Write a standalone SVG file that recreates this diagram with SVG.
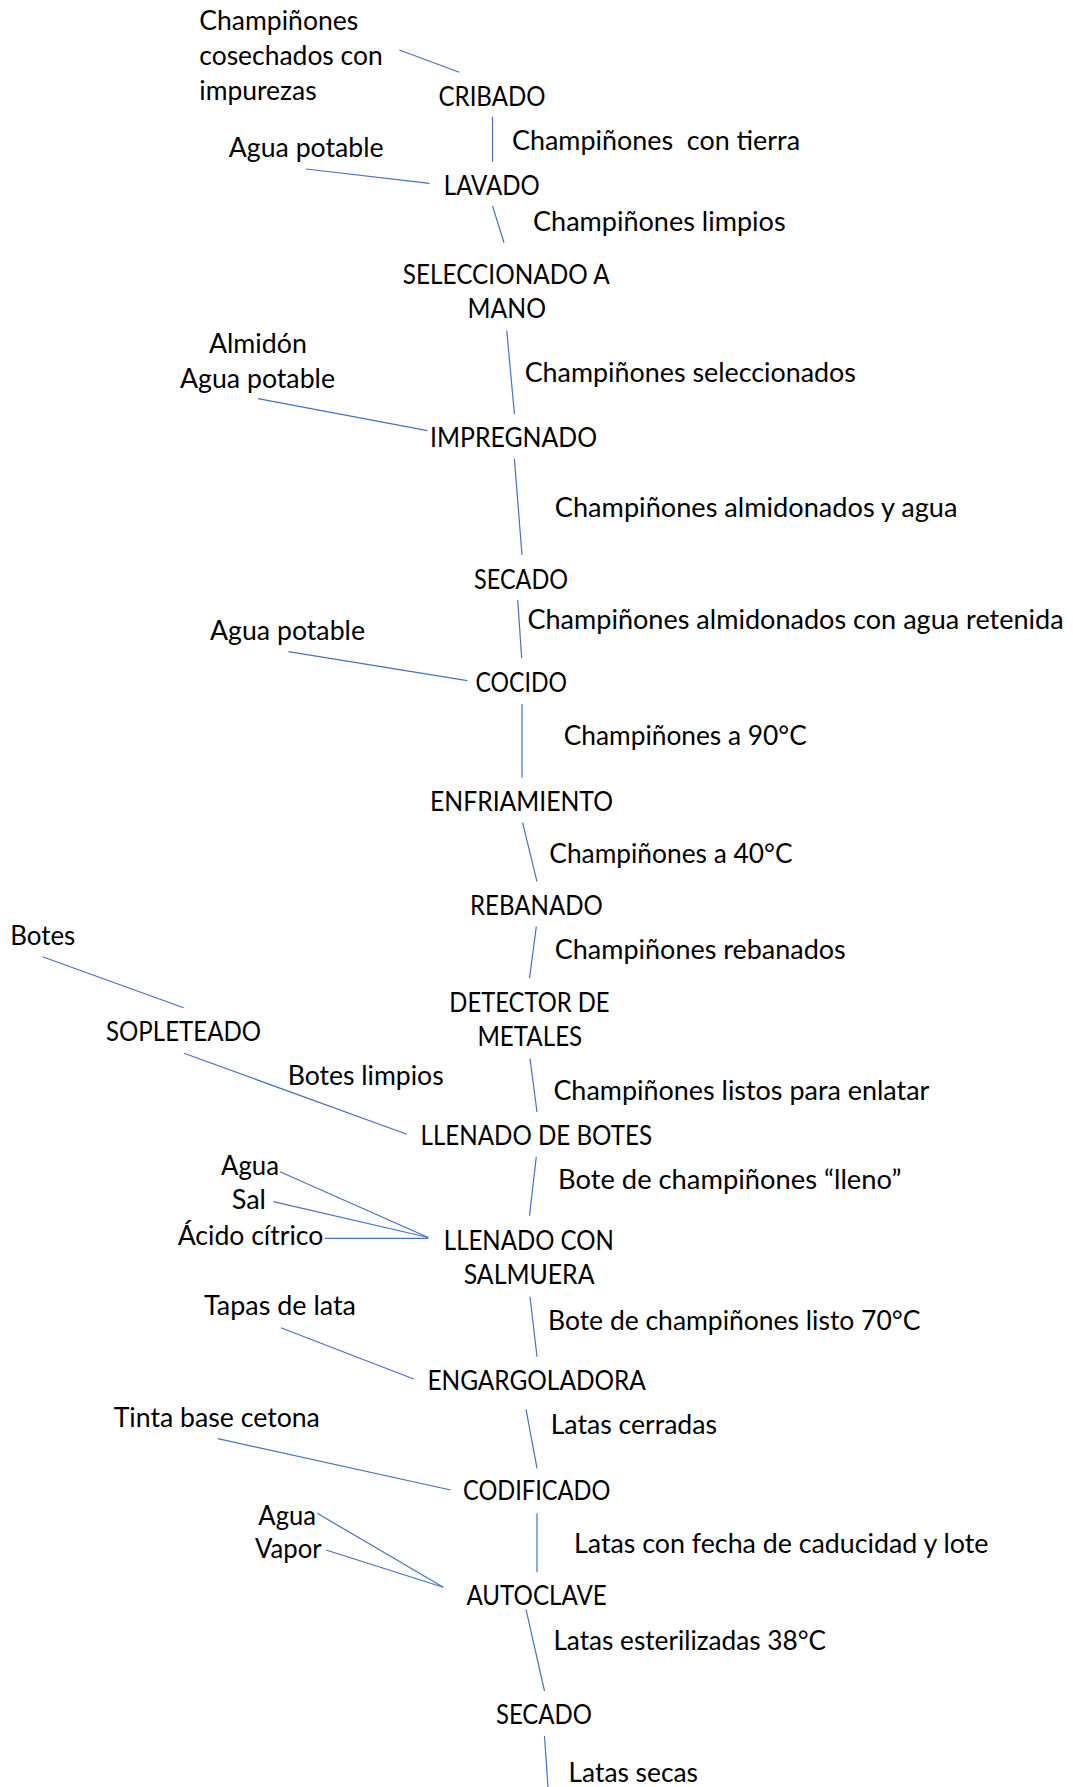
<svg xmlns="http://www.w3.org/2000/svg" width="1073" height="1787" viewBox="0 0 1073 1787">
<style>
text{font-family:Lato,"Liberation Sans",sans-serif;font-size:26px;fill:#000;white-space:pre}
.c line{stroke:#4472C4;stroke-width:1.2;fill:none}
</style>
<rect width="1073" height="1787" fill="#fff"/>
<g id="connectors" class="c">
<line x1="399.3" y1="50" x2="459.3" y2="72.3"/>
<line x1="492.5" y1="116.7" x2="492.5" y2="161.7"/>
<line x1="306" y1="169" x2="429.5" y2="183.3"/>
<line x1="492.5" y1="206" x2="504" y2="242.7"/>
<line x1="506.8" y1="330.7" x2="514.4" y2="414"/>
<line x1="258" y1="398.7" x2="427.4" y2="430.7"/>
<line x1="514.4" y1="458.7" x2="522" y2="555"/>
<line x1="517.7" y1="600" x2="521.7" y2="658.3"/>
<line x1="288.4" y1="651.7" x2="467.3" y2="680.7"/>
<line x1="522" y1="704" x2="522" y2="777.7"/>
<line x1="522.6" y1="822.7" x2="537" y2="881.7"/>
<line x1="536.3" y1="926.7" x2="529.5" y2="978.3"/>
<line x1="42.5" y1="956.7" x2="183.6" y2="1007.7"/>
<line x1="184" y1="1053.3" x2="406.8" y2="1134.3"/>
<line x1="530" y1="1058.7" x2="537" y2="1112"/>
<line x1="536.3" y1="1156.7" x2="529.5" y2="1215.7"/>
<line x1="280" y1="1171.7" x2="428.3" y2="1237.5"/>
<line x1="273.3" y1="1201.7" x2="428.3" y2="1237.5"/>
<line x1="325" y1="1238.3" x2="428.3" y2="1238.3"/>
<line x1="530" y1="1296.7" x2="537" y2="1356.7"/>
<line x1="280.8" y1="1327.7" x2="413.7" y2="1379"/>
<line x1="526" y1="1409.3" x2="537" y2="1468.3"/>
<line x1="217.8" y1="1438.7" x2="450.7" y2="1490"/>
<line x1="317.3" y1="1513.3" x2="443.3" y2="1587.3"/>
<line x1="326" y1="1550" x2="443.3" y2="1587.3"/>
<line x1="537" y1="1513.3" x2="537" y2="1572.3"/>
<line x1="526" y1="1609.3" x2="544.5" y2="1691"/>
<line x1="544.5" y1="1736" x2="548" y2="1787"/>
</g>
<g id="flow-labels">
<text x="512" y="150.3" textLength="288" lengthAdjust="spacingAndGlyphs">Champiñones  con tierra</text>
<text x="533" y="231.3" textLength="252.6" lengthAdjust="spacingAndGlyphs">Champiñones limpios</text>
<text x="524.7" y="382" textLength="331.3" lengthAdjust="spacingAndGlyphs">Champiñones seleccionados</text>
<text x="554.8" y="517" textLength="402.7" lengthAdjust="spacingAndGlyphs">Champiñones almidonados y agua</text>
<text x="527.4" y="628.7" textLength="536.3" lengthAdjust="spacingAndGlyphs">Champiñones almidonados con agua retenida</text>
<text x="563.7" y="744.7" textLength="243.1" lengthAdjust="spacingAndGlyphs">Champiñones a 90°C</text>
<text x="549.3" y="863" textLength="243.2" lengthAdjust="spacingAndGlyphs">Champiñones a 40°C</text>
<text x="554.8" y="958.7" textLength="291" lengthAdjust="spacingAndGlyphs">Champiñones rebanados</text>
<text x="287.7" y="1085.3" textLength="156" lengthAdjust="spacingAndGlyphs">Botes limpios</text>
<text x="553.4" y="1100.3" textLength="376" lengthAdjust="spacingAndGlyphs">Champiñones listos para enlatar</text>
<text x="558" y="1188.7" textLength="343.4" lengthAdjust="spacingAndGlyphs">Bote de champiñones “lleno”</text>
<text x="548" y="1330.3" textLength="372.5" lengthAdjust="spacingAndGlyphs">Bote de champiñones listo 70°C</text>
<text x="550.7" y="1433.7" textLength="166.3" lengthAdjust="spacingAndGlyphs">Latas cerradas</text>
<text x="574" y="1552.7" textLength="414.4" lengthAdjust="spacingAndGlyphs">Latas con fecha de caducidad y lote</text>
<text x="553.4" y="1649.7" textLength="272.6" lengthAdjust="spacingAndGlyphs">Latas esterilizadas 38°C</text>
<text x="568.5" y="1782" textLength="129.5" lengthAdjust="spacingAndGlyphs">Latas secas</text>
</g>
<g id="in-champinones">
<text x="199.3" y="30.3" textLength="159" lengthAdjust="spacingAndGlyphs">Champiñones</text>
<text x="199.3" y="65.3" textLength="183.4" lengthAdjust="spacingAndGlyphs">cosechados con</text>
<text x="199.3" y="100.3" textLength="117.4" lengthAdjust="spacingAndGlyphs">impurezas</text>
</g>
<g id="cribado"><text x="438.5" y="106" textLength="107" lengthAdjust="spacingAndGlyphs">CRIBADO</text></g>
<g id="in-agua-1"><text x="228.8" y="157" textLength="154.8" lengthAdjust="spacingAndGlyphs">Agua potable</text></g>
<g id="lavado"><text x="443.8" y="194.7" textLength="96" lengthAdjust="spacingAndGlyphs">LAVADO</text></g>
<g id="seleccionado">
<text x="402.7" y="283.7" textLength="207" lengthAdjust="spacingAndGlyphs">SELECCIONADO A</text>
<text x="467.5" y="318" textLength="78.5" lengthAdjust="spacingAndGlyphs">MANO</text>
</g>
<g id="in-almidon">
<text x="209" y="352.7" textLength="97.8" lengthAdjust="spacingAndGlyphs">Almidón</text>
<text x="180" y="388" textLength="155" lengthAdjust="spacingAndGlyphs">Agua potable</text>
</g>
<g id="impregnado"><text x="430" y="447.3" textLength="167" lengthAdjust="spacingAndGlyphs">IMPREGNADO</text></g>
<g id="secado-1"><text x="474" y="588.5" textLength="94" lengthAdjust="spacingAndGlyphs">SECADO</text></g>
<g id="in-agua-3"><text x="210" y="640.3" textLength="155" lengthAdjust="spacingAndGlyphs">Agua potable</text></g>
<g id="cocido"><text x="475.5" y="692" textLength="91.5" lengthAdjust="spacingAndGlyphs">COCIDO</text></g>
<g id="enfriamiento"><text x="430" y="811.3" textLength="183" lengthAdjust="spacingAndGlyphs">ENFRIAMIENTO</text></g>
<g id="rebanado"><text x="470" y="914.7" textLength="132.7" lengthAdjust="spacingAndGlyphs">REBANADO</text></g>
<g id="in-botes"><text x="10.3" y="944.7" textLength="65" lengthAdjust="spacingAndGlyphs">Botes</text></g>
<g id="detector">
<text x="449.3" y="1012" textLength="160.3" lengthAdjust="spacingAndGlyphs">DETECTOR DE</text>
<text x="477.4" y="1046.3" textLength="104.8" lengthAdjust="spacingAndGlyphs">METALES</text>
</g>
<g id="sopleteado"><text x="106" y="1041.3" textLength="155" lengthAdjust="spacingAndGlyphs">SOPLETEADO</text></g>
<g id="llenado-botes"><text x="420.5" y="1145.3" textLength="231.5" lengthAdjust="spacingAndGlyphs">LLENADO DE BOTES</text></g>
<g id="in-salmuera">
<text x="221" y="1174.5" textLength="58" lengthAdjust="spacingAndGlyphs">Agua</text>
<text x="231.7" y="1209.3" textLength="34.3" lengthAdjust="spacingAndGlyphs">Sal</text>
<text x="177.7" y="1245.3" textLength="145.6" lengthAdjust="spacingAndGlyphs">Ácido cítrico</text>
</g>
<g id="llenado-salmuera">
<text x="443.8" y="1249.7" textLength="170" lengthAdjust="spacingAndGlyphs">LLENADO CON</text>
<text x="463.7" y="1283.7" textLength="130.8" lengthAdjust="spacingAndGlyphs">SALMUERA</text>
</g>
<g id="in-tapas"><text x="204" y="1315.3" textLength="152" lengthAdjust="spacingAndGlyphs">Tapas de lata</text></g>
<g id="engargoladora"><text x="427.4" y="1390.3" textLength="218.5" lengthAdjust="spacingAndGlyphs">ENGARGOLADORA</text></g>
<g id="in-tinta"><text x="113.7" y="1427" textLength="206.2" lengthAdjust="spacingAndGlyphs">Tinta base cetona</text></g>
<g id="codificado"><text x="463" y="1500" textLength="147.3" lengthAdjust="spacingAndGlyphs">CODIFICADO</text></g>
<g id="in-autoclave">
<text x="258.3" y="1524.5" textLength="57.7" lengthAdjust="spacingAndGlyphs">Agua</text>
<text x="255" y="1558.3" textLength="66.7" lengthAdjust="spacingAndGlyphs">Vapor</text>
</g>
<g id="autoclave"><text x="466.4" y="1605.3" textLength="140.4" lengthAdjust="spacingAndGlyphs">AUTOCLAVE</text></g>
<g id="secado-2"><text x="495.9" y="1723.7" textLength="96" lengthAdjust="spacingAndGlyphs">SECADO</text></g>
</svg>
